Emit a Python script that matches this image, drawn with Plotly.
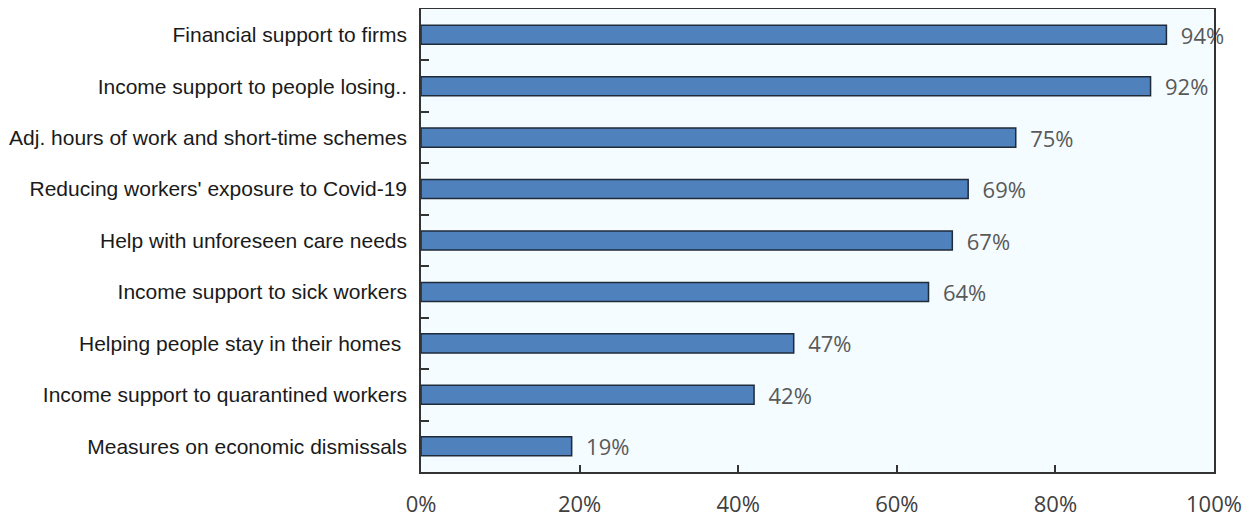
import plotly.graph_objects as go

categories = [
    "Financial support to firms",
    "Income support to people losing..",
    "Adj. hours of work and short-time schemes",
    "Reducing workers' exposure to Covid-19",
    "Help with unforeseen care needs",
    "Income support to sick workers",
    "Helping people stay in their homes ",
    "Income support to quarantined workers",
    "Measures on economic dismissals",
]
values = [94, 92, 75, 69, 67, 64, 47, 42, 19]
x_ticks = [0, 20, 40, 60, 80, 100]
x_ticktext = [f"{t}%" for t in x_ticks]

fig = go.Figure(go.Bar(
    x=values, y=categories, orientation="h",
    marker=dict(color="#4F81BD", line=dict(color="#1F2A3A", width=1.5)),
    width=0.37,
    texttemplate="  %{x}%", textposition="outside", cliponaxis=False,
    constraintext="none",
    textfont=dict(family="Open Sans", size=22, color="#595959"),
))

# page body has an 8px default margin, so the figure is offset by 8px
fig.update_layout(
    width=1244, height=509,
    margin=dict(l=413, r=38, t=1, b=45),
    paper_bgcolor="white", plot_bgcolor="#F4FCFF",
    showlegend=False,
)
fig.update_xaxes(
    range=[0, 100], tickvals=x_ticks, ticktext=x_ticktext,
    ticks="inside", ticklen=7, tickcolor="#333", tickwidth=1.5,
    showgrid=False, zeroline=False, showline=True, linecolor="#333", linewidth=1.5,
    mirror=True, ticklabelstandoff=12, automargin=False,
    tickfont=dict(family="Open Sans", size=22, color="#404040"),
)
fig.update_yaxes(
    autorange="reversed", ticks="inside", tickson="boundaries", ticklen=8,
    tickcolor="#333", tickwidth=1.5, automargin=False,
    showgrid=False, showline=True, linecolor="#333", linewidth=1.5, mirror=True,
    tickfont=dict(family="Liberation Sans", size=21, color="#1a1a1a"),
    ticklabelstandoff=8,
)

fig.write_html("out.html")
